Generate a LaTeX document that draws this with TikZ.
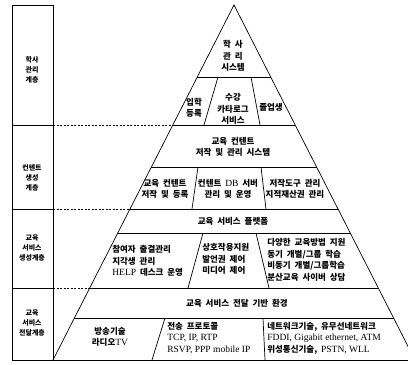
\documentclass[tikz,border=0pt]{standalone}
\usepackage{fontspec}
\setmainfont{Noto Sans CJK KR}[WordSpace=2]
\newfontfamily\latfont{Liberation Serif}[Scale=1.12]
\newcommand{\lt}[1]{{\latfont\mdseries #1}}

\begin{document}
\begin{tikzpicture}[x=1pt, y=-1pt, line width=0.7pt,
    layer/.style={font=\fontsize{7}{10}\selectfont\bfseries, align=center, inner sep=1pt},
    cell/.style={font=\fontsize{8.5}{11.5}\selectfont\bfseries, align=center, inner sep=1pt},
    cellL/.style={cell, align=left, anchor=west},
    link/.style={dash pattern=on 2pt off 1.5pt}]
  \clip (0,0) rectangle (408,365);

  % layer column on the left
  \draw (12,5) rectangle (53,360);
  \foreach \y in {125,209,288}
    \draw (12,\y) -- (53,\y);
  \node[layer] (lyrAdmin) at (32,70) {학사\\관리\\계층};
  \node[layer] (lyrContent) at (32,178) {컨텐트\\생성\\계층};
  \node[layer] (lyrSvcGen) at (32,248) {교육\\서비스\\생성계층};
  \node[layer] (lyrSvcDel) at (32,323) {교육\\서비스\\전달계층};

  % dashed links from the column to the pyramid
  \draw[link] (53,125) -- (172.8,125);
  \draw[link] (53,209) -- (130,209);
  \draw[link] (53,288) -- (89.7,288);

  % pyramid
  \coordinate (apex) at (234,5);
  \coordinate (bl) at (53,360);
  \coordinate (br) at (415,360);
  \draw (bl) -- (apex) -- (br);
  \draw (12,360) -- (408,360);
  \begin{scope}
    \clip (apex) -- (bl) -- (br) -- cycle;
    \foreach \y in {77,125,167,209,233,288,318}
      \draw (40,\y) -- (420,\y);
    % column dividers
    \draw (218,77) -- (204,125);
    \draw (251,77) -- (260,125);
    \draw (198,167) -- (192,209);
    \draw (261,167) -- (266,209);
    \draw (203,233) -- (188,288);
    \draw (256,233) -- (269,288);
    \draw (165,318) -- (152,360);
    \draw (263,318) -- (265,360);
  \end{scope}

  % texts inside the pyramid
  \node[cell] (sys) at (233,56) {학 사\\관 리\\시스템};
  \node[cell] (enroll) at (194,108) {입학\\등록};
  \node[cell] (catalog) at (233,109) {수강\\카타로그\\서비스};
  \node[cell] (grad) at (271,107) {졸업생};
  \node[cell] (lcms) at (233,147) {교육 컨텐트\\저작 및 관리 시스템};
  \node[cell] (authoring) at (165,189) {교육 컨텐트\\저작 및 등록};
  \node[cell] (dbserver) at (228,189) {컨텐트 \lt{DB} 서버\\관리 및 운영};
  \node[cell] (tools) at (295,189) {저작도구 관리\\지적재산권 관리};
  \node[cell] (platform) at (233,221) {교육 서비스 플랫폼};
  \node[cellL] (attend) at (111,261) {참여자 출결관리\\지각생 관리\\\lt{HELP} 데스크 운영};
  \node[cellL] (interact) at (201,259) {상호작용지원\\발언권 제어\\미디어 제어};
  \node[cellL] (methods) at (266,260) {다양한 교육방법 지원\\동기 개별/그룹 학습\\비동기 개별/그룹학습\\분산교육 사이버 상담};
  \node[cell] (infra) at (237,303) {교육 서비스 전달 기반 환경};
  \node[cell] (broadcast) at (110,337) {방송기술\\라디오\lt{TV}};
  \node[cellL] (protocol) at (166,338) {전송 프로토콜\\\lt{TCP, IP, RTP}\\\lt{RSVP, PPP mobile IP}};
  \node[cellL] (network) at (266,338) {네트워크기술, 유무선네트워크\\\lt{FDDI, Gigabit ethernet, ATM}\\위성통신기술, \lt{PSTN, WLL}};
\end{tikzpicture}
\end{document}
